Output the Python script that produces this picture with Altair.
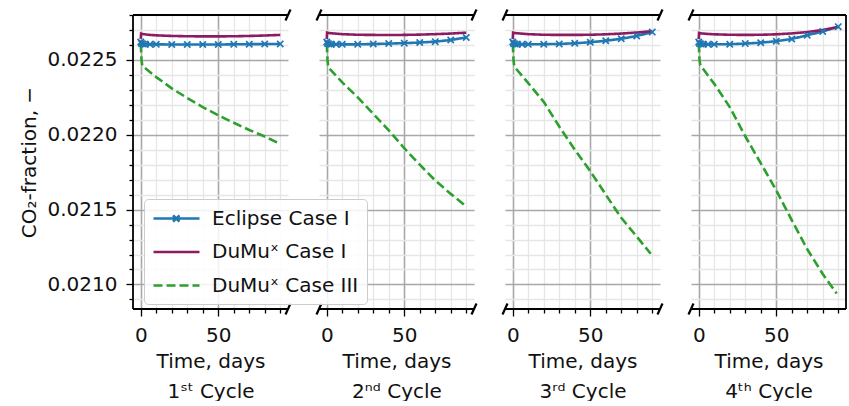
import altair as alt
import pandas as pd

# ---------------- data ----------------
cycle_labels = ["1ˢᵗ Cycle", "2ⁿᵈ Cycle", "3ʳᵈ Cycle", "4ᵗʰ Cycle"]
series_names = ["Eclipse Case I", "DuMuˣ Case I", "DuMuˣ Case III"]
series_colors = ["#1f77b4", "#8b1c62", "#2ca02c"]

eclipse_t = [0, 0.5, 1.5, 3, 6, 10, 20, 30, 40, 50, 60, 70, 80, 90]
eclipse_c1 = [0.022620, 0.022610, 0.022606, 0.022605, 0.022604, 0.022604, 0.022603,
              0.022603, 0.022603, 0.022603, 0.022604, 0.022605, 0.022606, 0.022607]
eclipse_c2 = [0.022620, 0.022610, 0.022606, 0.022605, 0.022604, 0.022604, 0.022604,
              0.022606, 0.022609, 0.022612, 0.022616, 0.022622, 0.022633, 0.022650]
eclipse_c3 = [0.022620, 0.022610, 0.022606, 0.022605, 0.022604, 0.022604, 0.022605,
              0.022607, 0.022611, 0.022618, 0.022628, 0.022641, 0.022660, 0.022686]
eclipse_c4 = [0.022620, 0.022610, 0.022606, 0.022605, 0.022604, 0.022604, 0.022605,
              0.022609, 0.022615, 0.022625, 0.022640, 0.022665, 0.022690, 0.022722]

dumux1_t = [0, 0.2, 1, 5, 10, 20, 30, 40, 50, 60, 70, 80, 90]
dumux1_c1 = [0.022640, 0.022675, 0.022673, 0.022668, 0.022664, 0.022660, 0.022658,
             0.022657, 0.022657, 0.022658, 0.022660, 0.022663, 0.022667]
dumux1_c2 = [0.022640, 0.022682, 0.022680, 0.022676, 0.022672, 0.022668, 0.022667,
             0.022666, 0.022667, 0.022669, 0.022672, 0.022676, 0.022682]
dumux1_c3 = [0.022640, 0.022682, 0.022680, 0.022676, 0.022672, 0.022668, 0.022667,
             0.022667, 0.022668, 0.022671, 0.022676, 0.022683, 0.022692]
dumux1_c4 = [0.022640, 0.022680, 0.022678, 0.022674, 0.022671, 0.022668, 0.022667,
             0.022668, 0.022671, 0.022677, 0.022686, 0.022700, 0.022720]

dumux3_t = [0, 0.5, 1, 10, 20, 30, 40, 50, 60, 70, 80, 89]
dumux3_c1 = [0.022610, 0.022500, 0.022460, 0.022385, 0.022310, 0.022245, 0.022185,
             0.022130, 0.022080, 0.022032, 0.021988, 0.021944]
dumux3_c2 = [0.022610, 0.022500, 0.022450, 0.022350, 0.022250, 0.022140, 0.022030,
             0.021910, 0.021800, 0.021695, 0.021605, 0.021530]
dumux3_c3 = [0.022610, 0.022500, 0.022455, 0.022345, 0.022220, 0.022055, 0.021900,
             0.021757, 0.021600, 0.021445, 0.021320, 0.021205]
dumux3_c4 = [0.022610, 0.022500, 0.022465, 0.022340, 0.022185, 0.021990, 0.021810,
             0.021629, 0.021430, 0.021235, 0.021070, 0.020940]

x_ticks = [0, 10, 20, 30, 40, 50, 60, 70, 80, 90]
y_ticks = [0.0209, 0.0210, 0.0211, 0.0212, 0.0213, 0.0214, 0.0215, 0.0216, 0.0217,
           0.0218, 0.0219, 0.0220, 0.0221, 0.0222, 0.0223, 0.0224, 0.0225, 0.0226,
           0.0227, 0.0228]

eclipse_all = [eclipse_c1, eclipse_c2, eclipse_c3, eclipse_c4]
dumux1_all = [dumux1_c1, dumux1_c2, dumux1_c3, dumux1_c4]
dumux3_all = [dumux3_c1, dumux3_c2, dumux3_c3, dumux3_c4]

rows = []
for c in range(4):
    for t, v in zip(eclipse_t, eclipse_all[c]):
        rows.append({"cycle": c, "series": series_names[0], "t": t, "v": v})
    for t, v in zip(dumux1_t, dumux1_all[c]):
        rows.append({"cycle": c, "series": series_names[1], "t": t, "v": v})
    for t, v in zip(dumux3_t, dumux3_all[c]):
        rows.append({"cycle": c, "series": series_names[2], "t": t, "v": v})
df = pd.DataFrame(rows)

# ---------------- styling ----------------
FONT = "DejaVu Sans"
W, H = 155, 294
XDOM = [-5, 95]
YDOM = [0.020836, 0.0228]
MAJOR_GRID = "#a8a8a8"
MINOR_GRID = "#e6e6e6"
X_MARK = "M-1,-1L1,1M-1,1L1,-1"
LEG_PLAIN = "M-1,0L3.6,0"
LEG_MARKED = "M-1,0L3.6,0M0.95,-0.32L1.6,0.32M0.95,0.32L1.6,-0.32"

x_major = "datum.value % 50 === 0"
y_major = "abs(datum.value * 2000 - round(datum.value * 2000)) < 1e-6"

color_scale = alt.Scale(domain=series_names, range=series_colors)
dash_scale = alt.Scale(domain=series_names, range=[[1, 0], [1, 0], [9, 4]])
shape_scale = alt.Scale(domain=series_names, range=[LEG_MARKED, LEG_PLAIN, LEG_PLAIN])

legend = alt.Legend(
    title=None, orient="none", legendX=11, legendY=184,
    symbolType=LEG_PLAIN, symbolSize=400, symbolStrokeWidth=2.5,
    labelFontSize=20, labelFont=FONT, labelColor="#111111", labelLimit=400,
    rowPadding=11.5, padding=8, labelOffset=37,
    fillColor="rgba(255,255,255,0.85)", strokeColor="#cccccc", cornerRadius=4,
)


def x_axis(i):
    return alt.Axis(
        values=x_ticks,
        labelExpr=f"{x_major} ? datum.label : ''",
        tickSize={"condition": {"test": x_major, "value": 7}, "value": 4},
        tickColor="black", tickWidth=1.3,
        grid=True,
        gridColor={"condition": {"test": x_major, "value": MAJOR_GRID}, "value": MINOR_GRID},
        gridWidth={"condition": {"test": x_major, "value": 1.6}, "value": 1.3},
        domain=False,
        labelFontSize=20, labelFont=FONT, labelColor="#111111", labelPadding=9,
        labelFlush=False,
        title=["Time, days", cycle_labels[i]],
        titleFontSize=20, titleFont=FONT, titleFontWeight="normal", titleColor="#111111",
        titleLineHeight=30, titlePadding=6,
    )


def y_axis(i):
    if i == 0:
        return alt.Axis(
            values=y_ticks,
            labelExpr=f"{y_major} ? format(datum.value, '.4f') : ''",
            tickSize={"condition": {"test": y_major, "value": 7}, "value": 4},
            tickColor="black", tickWidth=1.3,
            grid=True,
            gridColor={"condition": {"test": y_major, "value": MAJOR_GRID}, "value": MINOR_GRID},
            gridWidth={"condition": {"test": y_major, "value": 1.6}, "value": 1.3},
            domain=False,
            labelFontSize=20, labelFont=FONT, labelColor="#111111", labelPadding=9,
            labelFlush=False,
            title="CO₂-fraction, −",
            titleFontSize=20, titleFont=FONT, titleFontWeight="normal", titleColor="#111111",
            titlePadding=8,
        )
    return alt.Axis(
        values=y_ticks, labels=False, ticks=False, domain=False, grid=True,
        gridColor={"condition": {"test": y_major, "value": MAJOR_GRID}, "value": MINOR_GRID},
        gridWidth={"condition": {"test": y_major, "value": 1.6}, "value": 1.3},
        title=None,
    )


one = pd.DataFrame({"k": [0]})
legend_keys = pd.DataFrame({"series": series_names, "t": [-100, -100, -100],
                            "v": [0.0220, 0.0220, 0.0220]})


def rule(x1, x2, y1, y2, width=1.8):
    return alt.Chart(one).mark_rule(color="black", strokeWidth=width).encode(
        x=alt.value(x1), x2=alt.value(x2), y=alt.value(y1), y2=alt.value(y2)
    )


def panel(i):
    d = df[df.cycle == i]
    xs = alt.Scale(domain=XDOM, nice=False, zero=False)
    ys = alt.Scale(domain=YDOM, nice=False, zero=False)
    x = alt.X("t:Q", scale=xs, axis=x_axis(i))
    y = alt.Y("v:Q", scale=ys, axis=y_axis(i))
    lines = alt.Chart(d).mark_line(strokeWidth=2.6, clip=True).encode(
        x=x, y=y,
        color=alt.Color("series:N", scale=color_scale, legend=legend),
        strokeDash=alt.StrokeDash("series:N", scale=dash_scale, legend=legend),
        order=alt.Order("t:Q"),
    )
    pts = alt.Chart(d[d.series == series_names[0]]).mark_point(
        shape=X_MARK, filled=False, size=40, strokeWidth=1.7,
        color=series_colors[0], opacity=1, clip=True,
    ).encode(x=x, y=y)
    # off-canvas keys that only feed the legend's symbol shapes
    keys = alt.Chart(legend_keys).mark_point(filled=False, opacity=1, clip=True).encode(
        x=x, y=y,
        color=alt.Color("series:N", scale=color_scale, legend=legend),
        shape=alt.Shape("series:N", scale=shape_scale, legend=legend),
    )
    deco = [rule(0, W, 0, 0), rule(0, W, H, H)]
    if i == 0:
        deco.append(rule(0, 0, 0, H))
    if i == 3:
        deco.append(rule(W, W, 0, H))
    # diagonal break marks
    if i < 3:
        deco += [rule(W - 2.5, W + 2.5, 5.5, -5.5, 2.2), rule(W - 2.5, W + 2.5, H + 5.5, H - 5.5, 2.2)]
    if i > 0:
        deco += [rule(-2.5, 2.5, 5.5, -5.5, 2.2), rule(-2.5, 2.5, H + 5.5, H - 5.5, 2.2)]
    return alt.layer(lines, pts, keys, *deco).properties(width=W, height=H)


chart = alt.hconcat(
    *[panel(i) for i in range(4)], spacing=31, bounds="flush"
).properties(
    padding={"left": 19, "top": 8, "right": 0, "bottom": 0},
    background="white",
).configure_view(stroke=None)

chart.save("out.html", embed_options={"renderer": "svg", "actions": False})
